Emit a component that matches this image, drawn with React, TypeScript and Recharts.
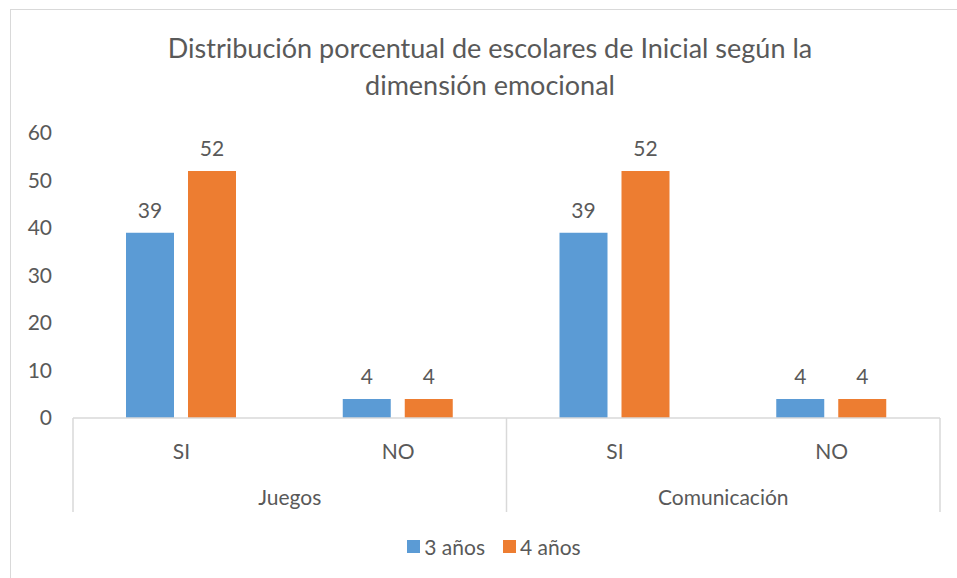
import React from "react"
import { BarChart, Bar, XAxis, YAxis, Legend, LabelList } from "recharts"

document.body.style.margin = "0"

const groups = ["Juegos", "Juegos", "Comunicación", "Comunicación"]
const answers = ["SI", "NO", "SI", "NO"]
const age3 = [39, 4, 39, 4]
const age4 = [52, 4, 52, 4]
const yTicks = [0, 10, 20, 30, 40, 50, 60]

const data = answers.map((a, i) => ({
  key: `${groups[i]}-${a}`,
  answer: a,
  group: groups[i],
  age3: age3[i],
  age4: age4[i],
}))

const FONT = "Lato, 'Open Sans', sans-serif"
const TEXT = "#595959"
const LINE = "#D9D9D9"

function CategoryTick(props: any) {
  const { x, y, payload, index } = props
  const half = payload.offset
  const row = data[index]
  const first = index === 0 || data[index - 1].group !== row.group
  const last = index === data.length - 1
  return (
    <g>
      <text x={x} y={y + 32} textAnchor="middle" dominantBaseline="central" fill={TEXT} fontSize={21} fontFamily={FONT}>
        {row.answer}
      </text>
      {first && (
        <>
          <line x1={x - half} x2={x - half} y1={y} y2={y + 94} stroke={LINE} strokeWidth={1.5} />
          <text x={x + half} y={y + 78} textAnchor="middle" dominantBaseline="central" fill={TEXT} fontSize={21} fontFamily={FONT}>
            {row.group}
          </text>
        </>
      )}
      {last && <line x1={x + half} x2={x + half} y1={y} y2={y + 94} stroke={LINE} strokeWidth={1.5} />}
    </g>
  )
}

function LegendContent() {
  const items = [
    { name: "3 años", color: "#5B9BD5" },
    { name: "4 años", color: "#ED7D31" },
  ]
  return (
    <div style={{ display: "flex", justifyContent: "center", gap: 18, fontFamily: FONT, fontSize: 21, color: TEXT, height: 26 }}>
      {items.map((it) => (
        <div key={it.name} style={{ display: "flex", alignItems: "center", gap: 4 }}>
          <span style={{ width: 13, height: 13, background: it.color, display: "inline-block" }} />
          <span>{it.name}</span>
        </div>
      ))}
    </div>
  )
}

export default function App() {
  return (
    <div style={{ position: "relative", width: 957, height: 578, overflow: "hidden", background: "#fff" }}>
      <div
        style={{
          position: "absolute",
          left: 10,
          top: 9,
          width: 980,
          height: 600,
          border: `1.5px solid ${LINE}`,
          boxSizing: "border-box",
        }}
      />
      <div
        style={{
          position: "absolute",
          left: 10,
          top: 29,
          width: 960,
          textAlign: "center",
          fontFamily: FONT,
          fontSize: 27,
          lineHeight: "37px",
          color: TEXT,
        }}
      >
        Distribución porcentual de escolares de Inicial según la
        <br />
        dimensión emocional
      </div>
      <BarChart
        width={957}
        height={578}
        data={data}
        margin={{ top: 133, right: 17, bottom: 40, left: 13 }}
        barGap={14}
        barSize={48}
        style={{ position: "absolute", left: 0, top: 0 }}
      >
        <XAxis
          dataKey="key"
          height={94}
          tickLine={false}
          axisLine={{ stroke: LINE, strokeWidth: 1.5 }}
          tickSize={0}
          tickMargin={0}
          interval={0}
          tick={<CategoryTick />}
        />
        <YAxis
          width={60}
          domain={[0, 60]}
          ticks={yTicks}
          axisLine={false}
          tickLine={false}
          tickSize={0}
          tickMargin={21}
          tick={{ fill: TEXT, fontSize: 21, fontFamily: FONT }}
        />
        <Legend
          content={<LegendContent />}
          wrapperStyle={{ left: 10, width: 968, top: 533, bottom: "auto" }}
        />
        <Bar dataKey="age3" name="3 años" fill="#5B9BD5" isAnimationActive={false}>
          <LabelList dataKey="age3" position="top" offset={15} fill={TEXT} fontSize={21} fontFamily={FONT} />
        </Bar>
        <Bar dataKey="age4" name="4 años" fill="#ED7D31" isAnimationActive={false}>
          <LabelList dataKey="age4" position="top" offset={15} fill={TEXT} fontSize={21} fontFamily={FONT} />
        </Bar>
      </BarChart>
    </div>
  )
}
